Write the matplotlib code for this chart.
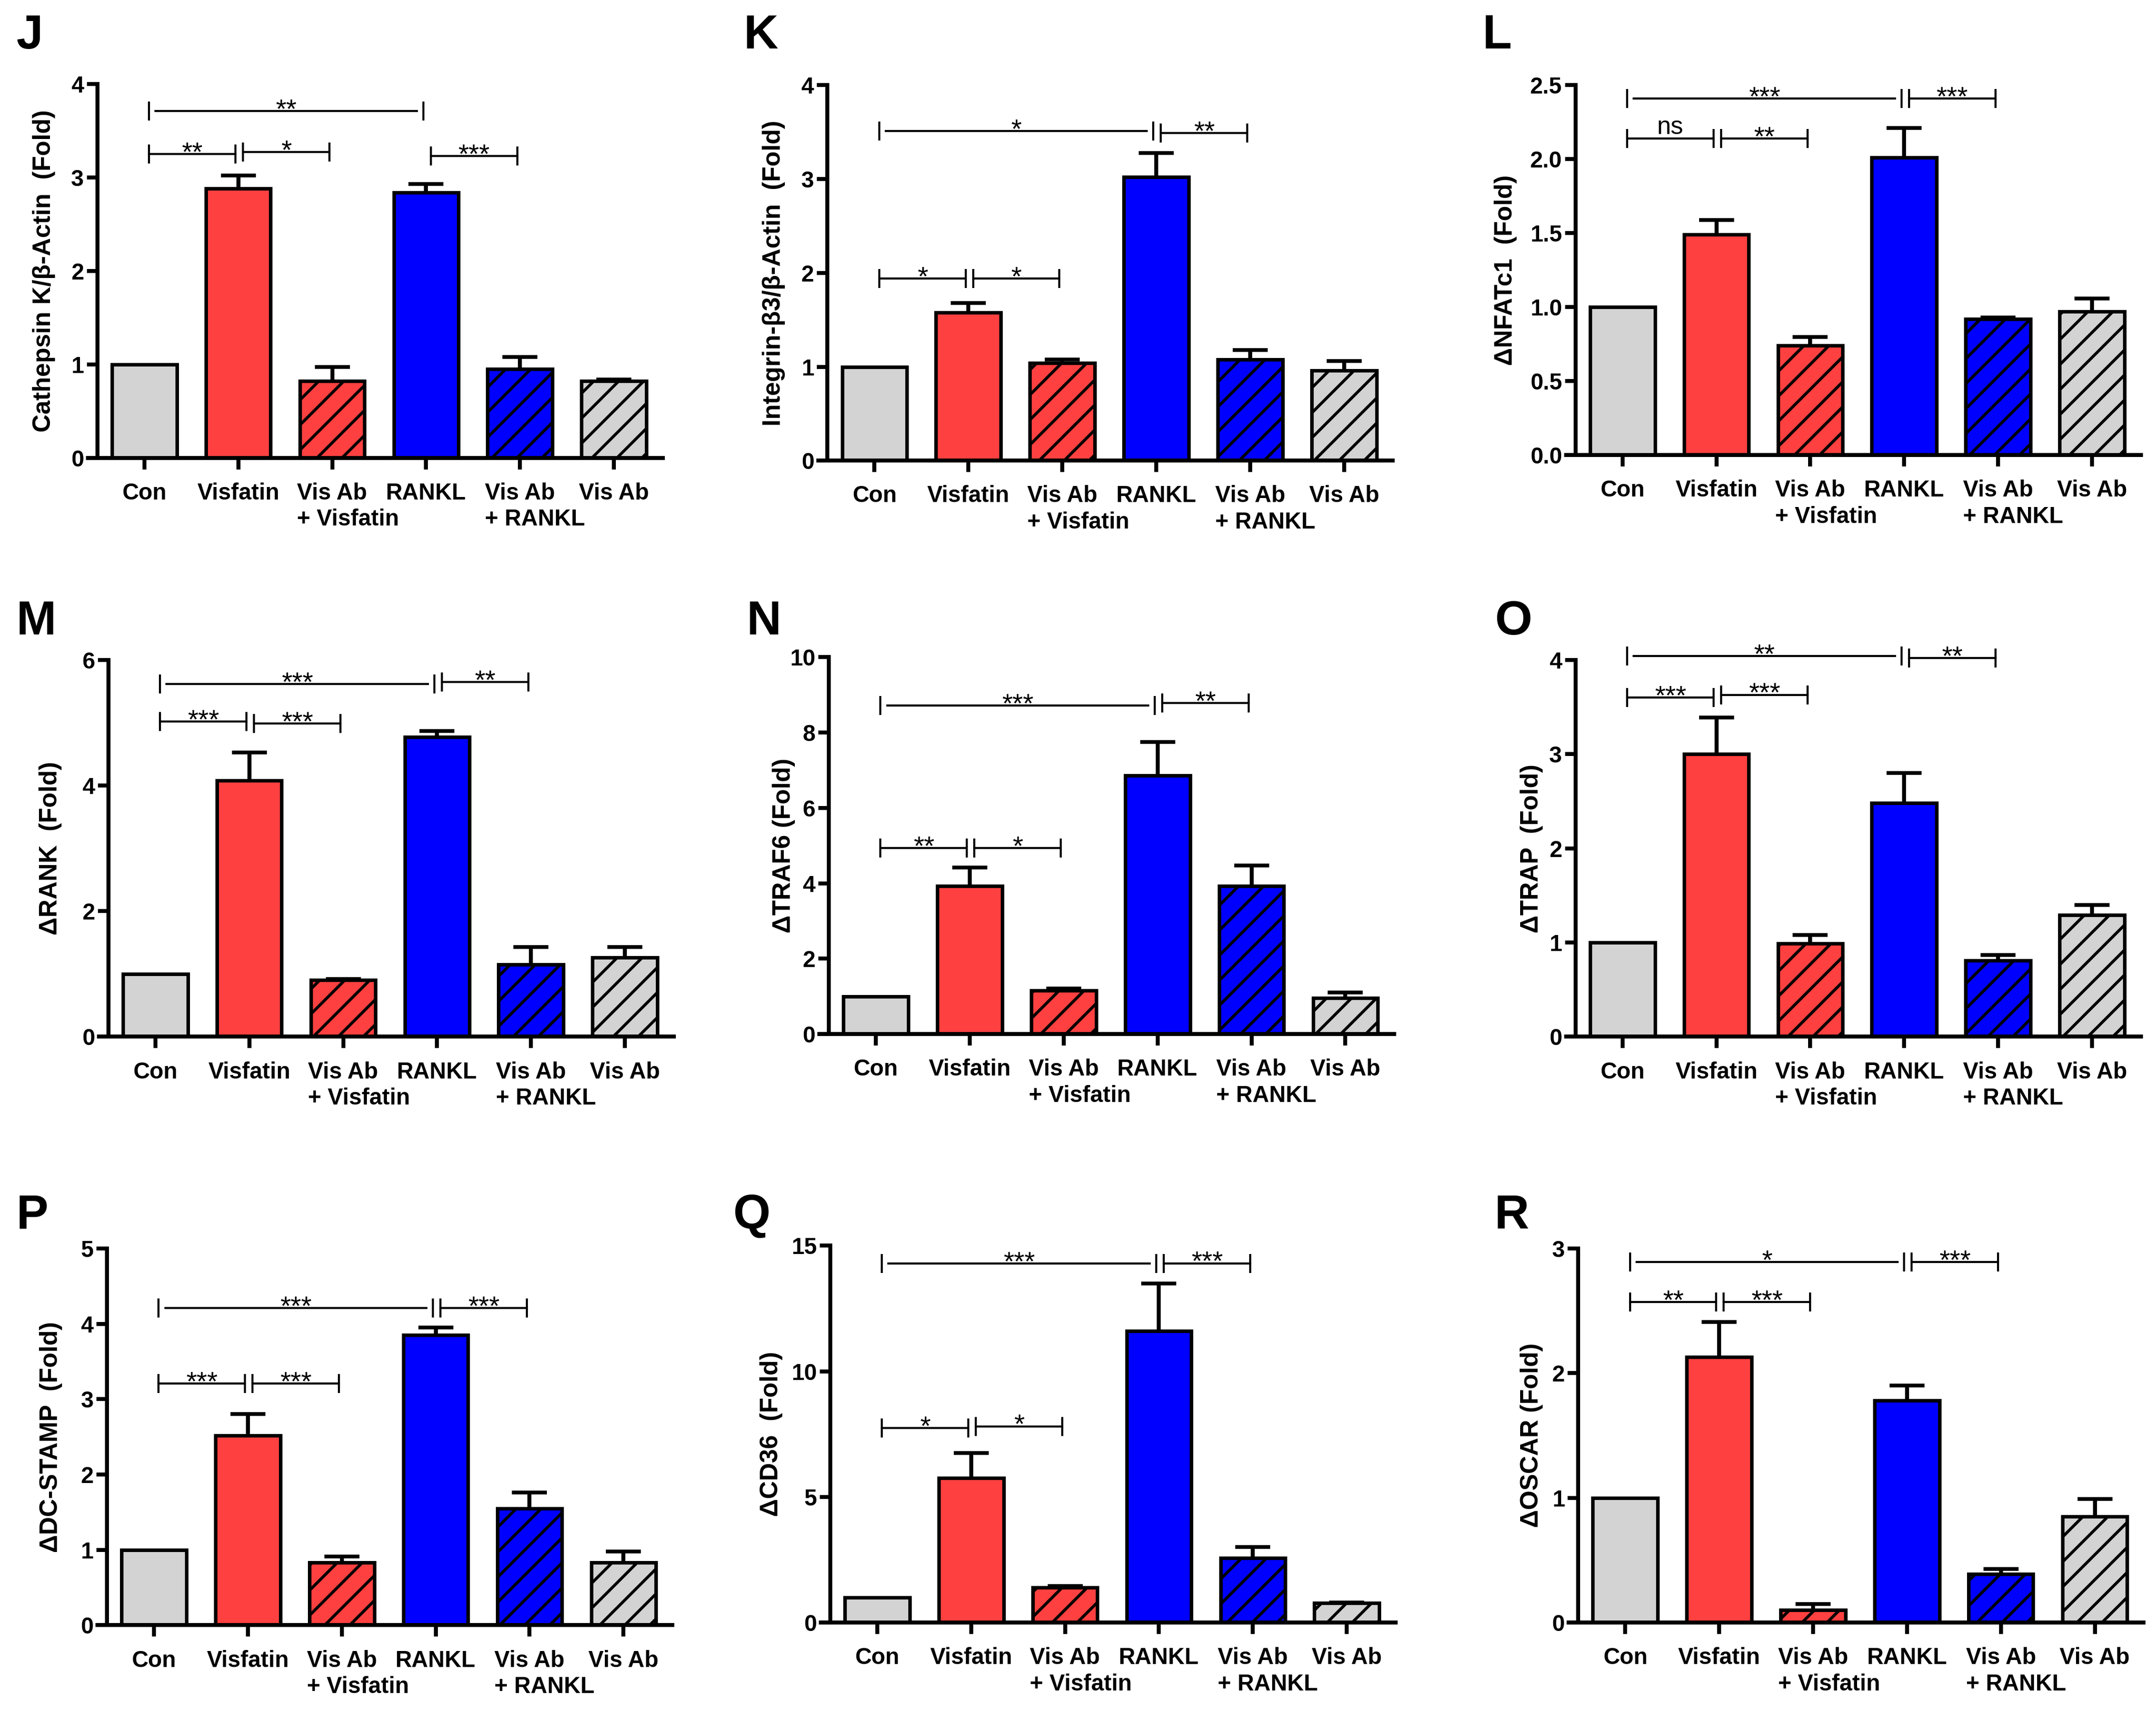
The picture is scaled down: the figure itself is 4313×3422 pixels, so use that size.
import matplotlib
matplotlib.use('Agg')
import matplotlib.pyplot as plt
from matplotlib.font_manager import FontProperties

# ---- data ----
groups = ['Con', 'Visfatin', 'Vis Ab\n+ Visfatin', 'RANKL', 'Vis Ab\n+ RANKL', 'Vis Ab']

cathepsin_k = [1.00, 2.88, 0.82, 2.84, 0.95, 0.82]
cathepsin_k_sem = [0.00, 0.14, 0.15, 0.09, 0.13, 0.02]
integrin_b3 = [1.00, 1.58, 1.04, 3.02, 1.08, 0.96]
integrin_b3_sem = [0.00, 0.10, 0.04, 0.26, 0.10, 0.10]
nfatc1 = [1.00, 1.49, 0.74, 2.01, 0.92, 0.97]
nfatc1_sem = [0.00, 0.10, 0.06, 0.20, 0.01, 0.09]
rank = [1.00, 4.08, 0.90, 4.77, 1.15, 1.26]
rank_sem = [0.00, 0.45, 0.02, 0.10, 0.28, 0.17]
traf6 = [1.00, 3.93, 1.16, 6.86, 3.93, 0.96]
traf6_sem = [0.00, 0.49, 0.05, 0.89, 0.54, 0.14]
trap = [1.00, 3.00, 0.99, 2.48, 0.81, 1.29]
trap_sem = [0.00, 0.39, 0.09, 0.32, 0.06, 0.11]
dc_stamp = [1.00, 2.52, 0.83, 3.85, 1.55, 0.83]
dc_stamp_sem = [0.00, 0.28, 0.08, 0.10, 0.21, 0.15]
cd36 = [1.00, 5.75, 1.40, 11.61, 2.57, 0.77]
cd36_sem = [0.00, 1.00, 0.05, 1.88, 0.43, 0.03]
oscar = [1.00, 2.13, 0.10, 1.78, 0.39, 0.85]
oscar_sem = [0.00, 0.28, 0.05, 0.12, 0.04, 0.14]

# significance brackets: (from group, to group, height, label)
sig_j = [(0, 3, 3.71, '**'), (0, 1, 3.25, '**'), (1, 2, 3.27, '*'), (3, 4, 3.23, '***')]
sig_k = [(0, 3, 3.51, '*'), (3, 4, 3.49, '**'), (0, 1, 1.94, '*'), (1, 2, 1.94, '*')]
sig_l = [(0, 3, 2.41, '***'), (3, 4, 2.41, '***'), (0, 1, 2.14, 'ns'), (1, 2, 2.14, '**')]
sig_m = [(0, 3, 5.62, '***'), (3, 4, 5.65, '**'), (0, 1, 5.02, '***'), (1, 2, 4.99, '***')]
sig_n = [(0, 3, 8.72, '***'), (3, 4, 8.78, '**'), (0, 1, 4.93, '**'), (1, 2, 4.93, '*')]
sig_o = [(0, 3, 4.04, '**'), (3, 4, 4.02, '**'), (0, 1, 3.60, '***'), (1, 2, 3.63, '***')]
sig_p = [(0, 3, 4.21, '***'), (3, 4, 4.21, '***'), (0, 1, 3.21, '***'), (1, 2, 3.21, '***')]
sig_q = [(0, 3, 14.29, '***'), (3, 4, 14.30, '***'), (0, 1, 7.74, '*'), (1, 2, 7.81, '*')]
sig_r = [(0, 3, 2.89, '*'), (3, 4, 2.89, '***'), (0, 1, 2.57, '**'), (1, 2, 2.57, '***')]

fills = ['#d3d3d3', '#ff4040', '#ff4040', '#0000ff', '#0000ff', '#d3d3d3']
hatches = ['', '', '//', '', '//', '//']

plt.rcParams['hatch.linewidth'] = 1.4
plt.rcParams['font.family'] = ['Liberation Sans', 'DejaVu Sans']

fam = ['Liberation Sans', 'DejaVu Sans']
tick_fp = FontProperties(family=fam, weight='bold', size=11)
label_fp = FontProperties(family=fam, weight='bold', size=12)
star_fp = FontProperties(family=fam, size=13)
ns_fp = FontProperties(family=fam, size=12)

W, H = 1568.0, 1244.4   # layout grid used to place the panels


def draw_panel(ax, vals, sems, ymax, yticks, yfmt, ylabel, ylab_x, sigs):
    x = list(range(len(groups)))
    bars = ax.bar(x, vals, width=0.69, color=fills, edgecolor='black',
                  linewidth=1.7, zorder=2)
    for b, h in zip(bars, hatches):
        b.set_hatch(h)
    idx = [k for k in x if sems[k] > 0]
    eb = ax.errorbar([x[k] for k in idx], [vals[k] for k in idx],
                     yerr=[[0] * len(idx), [sems[k] for k in idx]],
                     fmt='none', ecolor='black', elinewidth=1.9, capsize=8.3,
                     capthick=1.8, zorder=3)
    eb[1][0].set_visible(False)

    ax.set_xlim(-0.6, 5.52)
    ax.set_ylim(0, ymax)
    ax.spines['left'].set_position(('data', -0.5))
    ax.spines['top'].set_visible(False)
    ax.spines['right'].set_visible(False)
    ax.spines['left'].set_linewidth(1.9)
    ax.spines['bottom'].set_linewidth(1.9)
    ax.set_xticks(x)
    ax.set_xticklabels([''] * len(x))
    ax.tick_params(axis='x', length=5.6, width=1.9)
    ax.set_yticks(yticks)
    ax.set_yticklabels([yfmt % t for t in yticks], fontproperties=tick_fp)
    ax.tick_params(axis='y', length=5, width=1.9, pad=1.5)

    ax.text(ylab_x, 0.5, ylabel, rotation=90, transform=ax.transAxes,
            ha='center', va='center', fontproperties=label_fp)

    for k, g in enumerate(groups):
        lines = g.split('\n')
        t1 = ax.annotate(lines[0], xy=(k, 0), xycoords=('data', 'axes fraction'),
                         xytext=(0, -11.8), textcoords='offset points',
                         ha='center', va='top', fontproperties=tick_fp)
        if len(lines) > 1:
            ax.annotate(lines[1], xy=(0, 0), xycoords=(t1, 'axes fraction'),
                        xytext=(0, -24.4), textcoords='offset points',
                        ha='left', va='top', fontproperties=tick_fp)

    for i, j, y, lab in sigs:
        x1, x2 = i + 0.05, j - 0.03
        gap = 0.07 if j - i > 1 else 0.0
        ax.plot([x1 + gap, x2 - gap], [y, y], color='black', lw=1.0,
                clip_on=False, zorder=4)
        ax.plot([x1, x2], [y, y], ls='none', marker='|', ms=9, mew=1.0,
                color='black', clip_on=False, zorder=4)
        if lab == 'ns':
            ax.annotate(lab, xy=((x1 + x2) / 2, y), xytext=(0, 2.2),
                        textcoords='offset points', ha='center', va='baseline',
                        fontproperties=ns_fp, annotation_clip=False)
        else:
            ax.annotate(lab, xy=((x1 + x2) / 2, y), xytext=(0, -3.1),
                        textcoords='offset points', ha='center', va='baseline',
                        fontproperties=star_fp, annotation_clip=False)


fig = plt.figure(figsize=(4313 / 300, 3422 / 300), dpi=300)

panels = [
    # letter, (left, top, bottom), letter pos, values, sem, ymax, ticks, fmt, ylabel, ylabel x, sigs
    ('J', (64, 61, 333), (12, 10), cathepsin_k, cathepsin_k_sem, 4, [0, 1, 2, 3, 4], '%d',
     'Cathepsin K/\u03b2-Actin  (Fold)', -0.077, sig_j),
    ('K', (595, 62, 335), (541, 10), integrin_b3, integrin_b3_sem, 4, [0, 1, 2, 3, 4], '%d',
     'Integrin-\u03b23/\u03b2-Actin  (Fold)', -0.077, sig_k),
    ('L', (1139, 62, 331), (1078, 10), nfatc1, nfatc1_sem, 2.5, [0, 0.5, 1.0, 1.5, 2.0, 2.5], '%.1f',
     '\u0394NFATc1  (Fold)', -0.105, sig_l),
    ('M', (72, 480, 754), (12, 436), rank, rank_sem, 6, [0, 2, 4, 6], '%d',
     '\u0394RANK  (Fold)', -0.084, sig_m),
    ('N', (596, 478, 752), (543, 436), traf6, traf6_sem, 10, [0, 2, 4, 6, 8, 10], '%d',
     '\u0394TRAF6 (Fold)', -0.062, sig_n),
    ('O', (1139, 480, 754), (1087, 436), trap, trap_sem, 4, [0, 1, 2, 3, 4], '%d',
     '\u0394TRAP  (Fold)', -0.060, sig_o),
    ('P', (71, 908, 1182), (12, 868), dc_stamp, dc_stamp_sem, 5, [0, 1, 2, 3, 4, 5], '%d',
     '\u0394DC-STAMP  (Fold)', -0.081, sig_p),
    ('Q', (597, 906, 1180), (533, 868), cd36, cd36_sem, 15, [0, 5, 10, 15], '%d',
     '\u0394CD36  (Fold)', -0.086, sig_q),
    ('R', (1141, 908, 1180), (1087, 868), oscar, oscar_sem, 3, [0, 1, 2, 3], '%d',
     '\u0394OSCAR (Fold)', -0.065, sig_r),
]

for letter, (l, t, b), (lx, ly), vals, sems, ymax, ticks, fmt, ylab, ylx, sigs in panels:
    ax = fig.add_axes([l / W, 1 - b / H, 418 / W, (b - t) / H])
    draw_panel(ax, vals, sems, ymax, ticks, fmt, ylab, ylx, sigs)
    fig.text(lx / W, 1 - ly / H, letter, ha='left', va='top', fontsize=23,
             fontweight='bold')

fig.savefig('out.png', dpi=300)
